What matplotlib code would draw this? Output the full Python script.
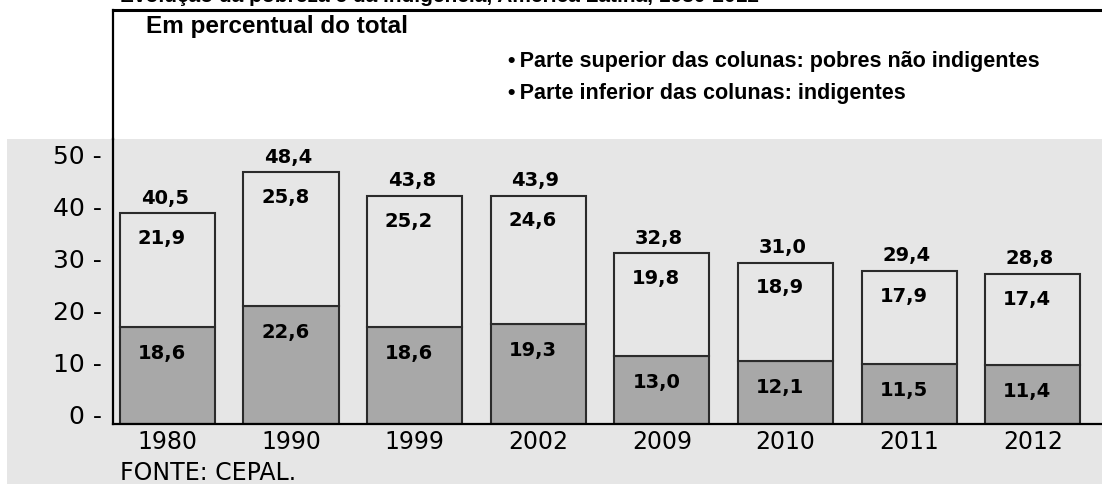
import matplotlib
matplotlib.use("Agg")
import matplotlib.pyplot as plt
from matplotlib.patches import Rectangle
from matplotlib.lines import Line2D
from matplotlib.transforms import ScaledTranslation

# dados (CEPAL), em percentual do total
anos = ["1980", "1990", "1999", "2002", "2009", "2010", "2011", "2012"]
indigentes = [18.6, 22.6, 18.6, 19.3, 13.0, 12.1, 11.5, 11.4]
pobres_nao_indigentes = [21.9, 25.8, 25.2, 24.6, 19.8, 18.9, 17.9, 17.4]
totais = [40.5, 48.4, 43.8, 43.9, 32.8, 31.0, 29.4, 28.8]
yticks = [0, 10, 20, 30, 40, 50]


def fmt(v):
    return f"{v:.1f}".replace(".", ",")


fig = plt.figure(figsize=(11.02, 4.84), dpi=100)
W, H = 1102, 484

# fundo cinza da area do grafico
fig.patches.append(Rectangle((7 / W, 0), 1, (H - 139) / H, transform=fig.transFigure,
                             facecolor="#e6e6e6", edgecolor="none", zorder=-5))
# moldura do cabecalho
fig.add_artist(Line2D([113 / W, 1], [1 - 10 / H, 1 - 10 / H], color="black", lw=2.2))
fig.add_artist(Line2D([113 / W, 113 / W], [1 - 10 / H, 1 - 139 / H], color="black", lw=1.6))

# titulo cortado no topo (como na imagem original)
fig.text(120 / W, 1 - 2 / H, "Evolução da pobreza e da indigência, América Latina, 1980-2012",
         fontsize=15, fontweight="bold", family="Liberation Sans", va="baseline")
fig.text(146 / W, 1 - 26 / H, "Em percentual do total", fontsize=17.5, fontweight="bold",
         family="Liberation Sans", va="center")
fig.text(508 / W, 1 - 62 / H, "\u2022\u2009Parte superior das colunas: pobres não indigentes",
         fontsize=15.5, fontweight="bold", family="Liberation Sans", va="center")
fig.text(508 / W, 1 - 93 / H, "\u2022\u2009Parte inferior das colunas: indigentes",
         fontsize=15.5, fontweight="bold", family="Liberation Sans", va="center")

ax = fig.add_axes([113 / W, 1 - 424 / H, 1 - 113 / W, (424 - 139) / H])
ax.set_facecolor("none")
ax.set_zorder(2)

x = list(range(len(anos)))
w = 0.77
ax.bar(x, indigentes, width=w, color="#a8a8a8", edgecolor="#2b2b2b", linewidth=1.5, zorder=2)
ax.bar(x, pobres_nao_indigentes, width=w, bottom=indigentes, color="#e6e6e6",
       edgecolor="#2b2b2b", linewidth=1.5, zorder=2)

rotulo = dict(ha="center", va="center", fontsize=14, fontweight="bold",
              family="DejaVu Sans", textcoords="offset points")
for i in x:
    topo = indigentes[i] + pobres_nao_indigentes[i]
    ax.annotate(fmt(totais[i]), (i, topo), xytext=(-2, 11), **rotulo)
    ax.annotate(fmt(pobres_nao_indigentes[i]), (i, topo), xytext=(-4, -18), **rotulo)
    ax.annotate(fmt(indigentes[i]), (i, indigentes[i]), xytext=(-4, -19), **rotulo)

ax.set_xlim(-0.44, len(anos) - 0.44)
ax.set_ylim(0, 54.8)

for s in ["top", "right"]:
    ax.spines[s].set_visible(False)
ax.spines["left"].set_linewidth(1.6)
ax.spines["bottom"].set_linewidth(1.6)

ax.set_xticks(x)
ax.set_xticklabels(anos, fontsize=17, family="DejaVu Sans")
ax.set_yticks(yticks)
ax.set_yticklabels([f"{t} -" for t in yticks], fontsize=18, family="DejaVu Sans")
ax.tick_params(axis="both", length=0)
ax.tick_params(axis="x", pad=4)
ax.tick_params(axis="y", pad=8)
desloc = ScaledTranslation(0, 0.09, fig.dpi_scale_trans)
for lab in ax.get_yticklabels():
    lab.set_transform(lab.get_transform() + desloc)

fig.text(120 / W, 1 - 473 / H, "FONTE: CEPAL.", fontsize=17, family="DejaVu Sans", va="center")

fig.savefig("out.png", dpi=100)
